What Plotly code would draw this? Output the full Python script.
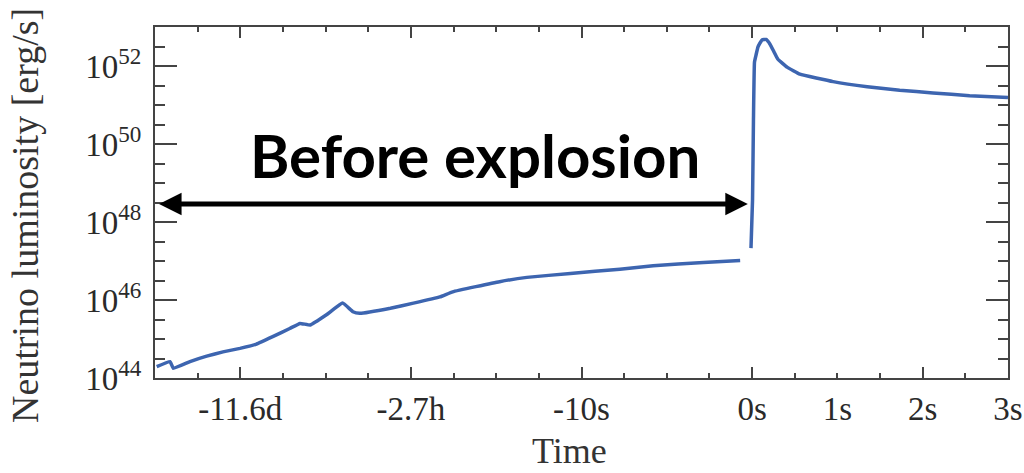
import plotly.graph_objects as go

# Time axis is a piecewise scale: position units along the axis, with labelled ticks
tick_pos = [1, 3, 5, 7, 9]
tick_text = ["-11.6d", "-2.7h", "-10s", "0s", "2s"]
extra_tick_pos = [8, 10]
extra_tick_text = ["1s", "3s"]

# Pre-bounce (progenitor) neutrino luminosity, log10 of erg/s
pre_t = [0.02, 0.176, 0.215, 0.41, 0.606, 0.797, 0.996, 1.19, 1.38, 1.58, 1.70, 1.82,
         2.01, 2.20, 2.32, 2.40, 2.76, 3.03, 3.34, 3.49, 4.04, 4.36, 4.87, 5.45, 5.84,
         6.43, 6.86]
pre_log_lum = [44.29, 44.42, 44.25, 44.42, 44.56, 44.67, 44.76, 44.87, 45.06, 45.27,
               45.40, 45.36, 45.62, 45.92, 45.70, 45.66, 45.79, 45.92, 46.08, 46.21,
               46.47, 46.58, 46.68, 46.79, 46.88, 46.96, 47.01]

# Post-bounce neutrino luminosity, log10 of erg/s
post_t = [6.987, 7.005, 7.016, 7.028, 7.046, 7.069, 7.116, 7.163, 7.21, 7.257, 7.30,
          7.41, 7.56, 7.95, 8.35, 8.73, 9.12, 9.55, 10.0]
post_log_lum = [47.33, 48.56, 50.62, 52.10, 52.28, 52.49, 52.67, 52.68, 52.56, 52.36,
                52.18, 51.97, 51.79, 51.60, 51.47, 51.38, 51.31, 51.24, 51.19]

y_exponents = [44, 46, 48, 50, 52]

LINE_BLUE = "#3d65b0"
AXIS_GREY = "#444444"
LABEL_GREY = "#2a2a2a"
CLEAR = "rgba(0,0,0,0)"
SERIF = "Liberation Serif, Times New Roman, serif"

fig = go.Figure()
# pre-bounce on the main time axis, post-bounce on the twin axis that carries 1s / 3s
for xs, ls, xa in ((pre_t, pre_log_lum, "x"), (post_t, post_log_lum, "x2")):
    fig.add_trace(go.Scatter(
        x=xs, y=[10.0 ** v for v in ls], mode="lines", xaxis=xa, yaxis="y",
        line=dict(color=LINE_BLUE, width=3.5, shape="spline", smoothing=0.3),
        hoverinfo="skip", showlegend=False,
    ))

half_steps = [k / 2 for k in range(1, 20)]
half_decades = [10.0 ** (44 + k / 2) for k in range(0, 19)]

fig.update_layout(
    width=1024, height=473,
    margin=dict(l=155, r=16, t=27, b=95),
    paper_bgcolor="white", plot_bgcolor="white",
    xaxis=dict(
        range=[0, 10], showgrid=False, zeroline=False, automargin=False,
        showline=True, linewidth=2, linecolor=AXIS_GREY, mirror="ticks",
        tickmode="array", tickvals=tick_pos, ticktext=tick_text,
        ticks="inside", ticklen=11, tickwidth=2, tickcolor=AXIS_GREY,
        tickfont=dict(family=SERIF, size=33, color=LABEL_GREY),
        minor=dict(tickmode="array", tickvals=half_steps, ticks="inside",
                   ticklen=5, tickwidth=2, tickcolor=AXIS_GREY, showgrid=False),
    ),
    xaxis2=dict(
        range=[0, 10], matches="x", overlaying="x", side="bottom", showgrid=False,
        zeroline=False, automargin=False,
        showline=True, linewidth=2, linecolor=CLEAR,
        ticks="inside", ticklen=11, tickwidth=2, tickcolor=CLEAR,
        tickmode="array", tickvals=extra_tick_pos, ticktext=extra_tick_text,
        tickfont=dict(family=SERIF, size=33, color=LABEL_GREY),
        minor=dict(tickmode="array", tickvals=half_steps, ticks="inside",
                   ticklen=5, tickwidth=2, tickcolor=CLEAR, showgrid=False),
    ),
    yaxis=dict(
        type="log", range=[44, 53], showgrid=False, zeroline=False, automargin=False,
        showline=True, linewidth=2, linecolor=AXIS_GREY, mirror="ticks",
        tickmode="array", tickvals=[10.0 ** e for e in y_exponents],
        ticktext=[f"10<sup>{e}</sup>" for e in y_exponents],
        ticks="inside", ticklen=22, tickwidth=2, tickcolor=AXIS_GREY,
        ticklabelstandoff=5,
        tickfont=dict(family=SERIF, size=33, color=LABEL_GREY),
        minor=dict(tickmode="array", tickvals=half_decades, ticks="inside",
                   ticklen=10, tickwidth=2, tickcolor=AXIS_GREY, showgrid=False),
    ),
)

# Axis titles
fig.add_annotation(
    text="Neutrino luminosity [erg/s]", textangle=-90,
    xref="paper", yref="paper", x=(25 - 155) / 853, y=(378 - 216) / 351,
    xanchor="center", yanchor="middle", showarrow=False,
    font=dict(family=SERIF, size=38, color="#333333"),
)
fig.add_annotation(
    text="Time", xref="paper", yref="paper",
    x=(569 - 155) / 853, y=(378 - 473) / 351,
    xanchor="center", yanchor="bottom", showarrow=False,
    font=dict(family=SERIF, size=36, color="#333333"),
)

# Pre-explosion span marker
fig.add_annotation(
    text="", x=6.95, y=48.46, ax=0.03, ay=48.46, xref="x", yref="y",
    axref="x", ayref="y", showarrow=True, arrowhead=2, arrowside="end+start",
    arrowwidth=5, arrowsize=0.9, arrowcolor="black", standoff=0, startstandoff=0,
)
fig.add_annotation(
    text="Before explosion", xref="paper", yref="paper",
    x=(475 - 155) / 853, y=(378 - 155) / 351,
    xanchor="center", yanchor="middle", showarrow=False,
    font=dict(family="Lato, Open Sans, sans-serif", size=60, color="black", weight=700),
)

fig.write_html("out.html")
